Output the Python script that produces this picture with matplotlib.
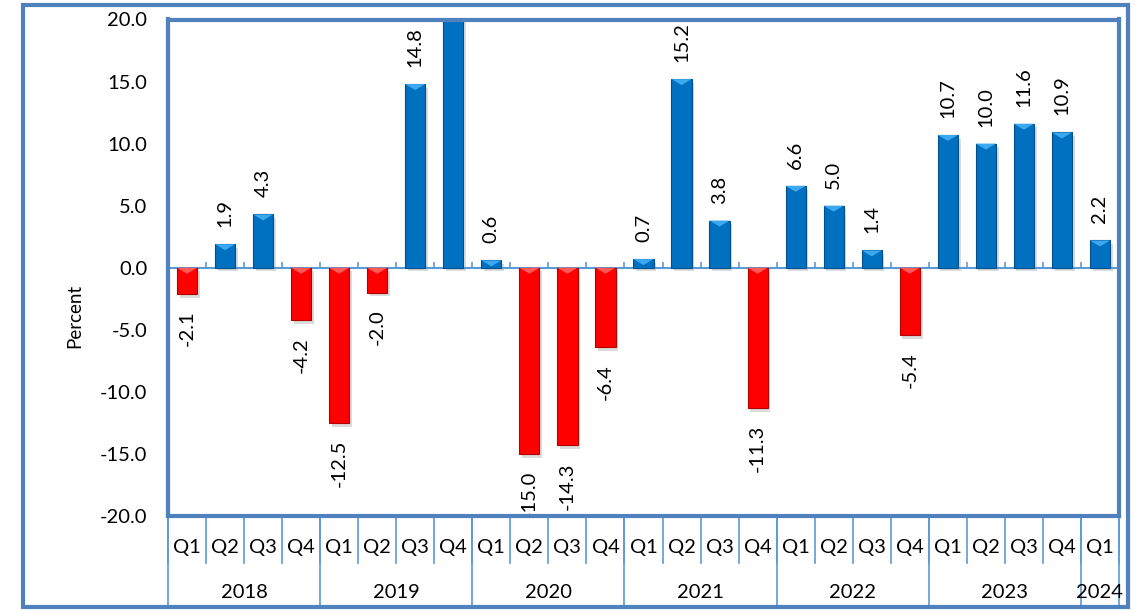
import numpy as np
import matplotlib
matplotlib.use("Agg")
import matplotlib.pyplot as plt
from matplotlib.patches import Rectangle, Polygon
from matplotlib import transforms

plt.rcParams['font.family'] = ['Lato', 'DejaVu Sans']

years = ["2018", "2019", "2020", "2021", "2022", "2023", "2024"]
quarters_per_year = [4, 4, 4, 4, 4, 4, 1]
quarter_labels = ["Q1", "Q2", "Q3", "Q4"] * 6 + ["Q1"]
values = [-2.1, 1.9, 4.3, -4.2,
          -12.5, -2.0, 14.8, 24.6,
          0.6, -15.0, -14.3, -6.4,
          0.7, 15.2, 3.8, -11.3,
          6.6, 5.0, 1.4, -5.4,
          10.7, 10.0, 11.6, 10.9,
          2.2]
yticks = [-20, -15, -10, -5, 0, 5, 10, 15, 20]

W, H = 1145, 610
fig = plt.figure(figsize=(W / 100, H / 100), dpi=100)
frame_col = "#4F81BD"
sep_col = "#5B9BD5"
blue, blue_light, blue_dark = "#0070C0", "#3BA8F0", "#004F8A"
red, red_light, red_dark = "#FF0000", "#FF5A5A", "#B00000"
FS = 14.5

L, R, T, B = 168, 1119, 19.5, 516
ax = fig.add_axes([L / W, 1 - B / H, (R - L) / W, (B - T) / H])
n = len(values)
ymin, ymax = -20, 20
ax.set_xlim(-0.5, n - 0.5)
ax.set_ylim(ymin, ymax)

# pixels per data unit
py = (B - T) / 40.0
bw = 0.53
bevel = 6 / py

for i, v in enumerate(values):
    pos = v >= 0
    c, cl, cd = (blue, blue_light, blue_dark) if pos else (red, red_light, red_dark)
    # shadow
    ax.add_patch(Rectangle((i - bw / 2 + 0.07, min(0, v) - 0.3), bw, abs(v),
                           facecolor="#000000", alpha=0.14, edgecolor="none", zorder=1))
    ax.add_patch(Rectangle((i - bw / 2, min(0, v)), bw, abs(v), facecolor=c,
                           edgecolor=cd, linewidth=0.8, zorder=2))
    top = max(0, v)
    d = min(bevel, abs(v))
    ax.add_patch(Polygon([(i - bw / 2, top), (i + bw / 2, top), (i, top - d)],
                         closed=True, facecolor=cl, edgecolor="none", zorder=3))
    if not (ymin < v < ymax):
        continue
    off = 17 / py
    if pos:
        ax.text(i, v + off, f"{v:.1f}", rotation=90, ha="center", va="bottom",
                fontsize=FS, clip_on=True, zorder=4)
    else:
        ax.text(i, v - off, f"{v:.1f}", rotation=90, ha="center", va="top",
                fontsize=FS, clip_on=True, zorder=4)

# zero axis line with small ticks
ax.axhline(0, color=sep_col, linewidth=1.5, zorder=1.5)
bounds = np.arange(n + 1) - 0.5
ax.vlines(bounds, 0, 6 / py, color=sep_col, linewidth=1.2, zorder=1.5)

ax.set_yticks(yticks)
ax.set_yticklabels([f"{t:.1f}" for t in yticks], fontsize=FS)
ax.tick_params(axis="y", length=0, pad=15)
ax.set_xticks([])
for s in ax.spines.values():
    s.set_color(frame_col)
    s.set_linewidth(3)
    s.set_zorder(5)

fig.text(75 / W, 1 - 316 / H, "Percent", rotation=90, ha="center", va="center",
         fontsize=13.5)

# category axis below
tr = transforms.blended_transform_factory(ax.transData, fig.transFigure)
for i, q in enumerate(quarter_labels):
    ax.text(i, 1 - 548 / H, q, transform=tr, ha="center", va="center",
            fontsize=FS, clip_on=False)
for b in bounds:
    ax.plot([b, b], [1 - B / H, 1 - 563 / H], transform=tr, color=sep_col,
            linewidth=1.2, clip_on=False, zorder=0)
start = 0
for y, k in zip(years, quarters_per_year):
    ax.text(start + (k - 1) / 2, 1 - 593 / H, y, transform=tr, ha="center",
            va="center", fontsize=FS, clip_on=False)
    ax.plot([start - 0.5, start - 0.5], [1 - B / H, 1 - 607 / H], transform=tr,
            color=sep_col, linewidth=1.2, clip_on=False, zorder=0)
    start += k
ax.plot([start - 0.5, start - 0.5], [1 - B / H, 1 - 607 / H], transform=tr,
        color=sep_col, linewidth=1.2, clip_on=False, zorder=0)

# outer frame
fig.patches.append(Rectangle((23 / W, 1 - 607 / H), (1128 - 23) / W, (607 - 5) / H,
                             transform=fig.transFigure, fill=False,
                             edgecolor=frame_col, linewidth=3))

fig.savefig("out.png", dpi=100)
